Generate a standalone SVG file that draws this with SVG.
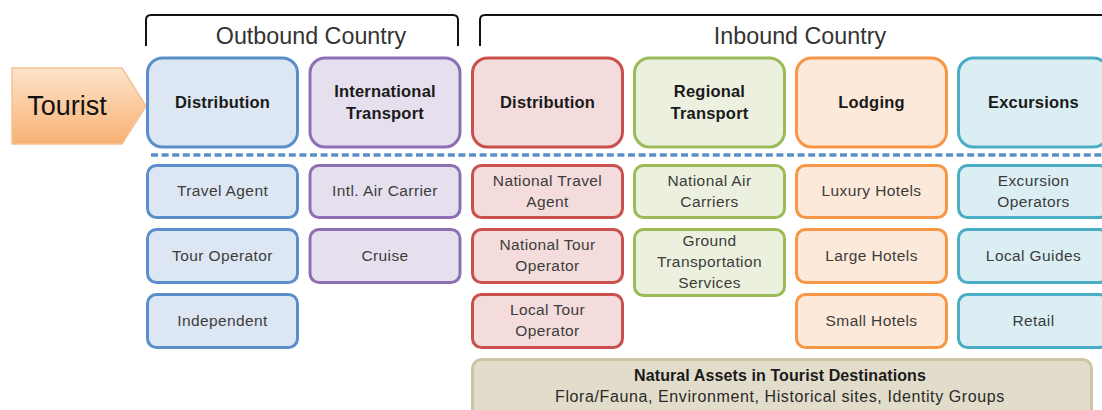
<svg xmlns="http://www.w3.org/2000/svg" width="1102" height="410" viewBox="0 0 1102 410">
<defs>
<linearGradient id="tg" x1="0" y1="0" x2="0" y2="1">
<stop offset="0" stop-color="#fde4cb"/>
<stop offset="1" stop-color="#f8b172"/>
</linearGradient>
<style>
text{font-family:"Liberation Sans",Arial,sans-serif;text-anchor:middle}
.hd{font-size:16.5px;font-weight:bold;fill:#1a1a1a;letter-spacing:0.2px}
.sm{font-size:15.5px;fill:#3c3c3c;letter-spacing:0.4px}
.ct{font-size:23.3px;fill:#333}
.box{stroke-width:3}
.blue{fill:#dde7f3;stroke:#5b8fc9}
.purple{fill:#e6e0ee;stroke:#8d6fb5}
.red{fill:#f3dcdb;stroke:#c9504c}
.green{fill:#ebf1de;stroke:#9bbb59}
.orange{fill:#fde9d9;stroke:#f79646}
.cyan{fill:#dbeef4;stroke:#4bacc6}
.brk{fill:none;stroke:#111;stroke-width:2}
</style>
</defs>
<rect width="1102" height="410" fill="#fff"/>

<g id="brackets">
<path class="brk" d="M146,46 V20 Q146,15 151,15 H453 Q458,15 458,20 V46"/>
<path class="brk" d="M480,46 V20 Q480,15 485,15 H1104"/>
<text class="ct" x="311" y="44">Outbound Country</text>
<text class="ct" x="800" y="44">Inbound Country</text>
</g>

<g id="tourist">
<path d="M12,68 H122 L146,106 L122,144 H12 Z" fill="url(#tg)" stroke="#f3c296" stroke-width="1.5"/>
<text x="67" y="115" style="font-size:27px;fill:#111">Tourist</text>
</g>

<g id="connectors">
<line x1="151" y1="155" x2="1102" y2="155" stroke="#5b8fc9" stroke-width="3.5" stroke-dasharray="7,3.6"/>
</g>

<g id="h-out-dist"><rect class="blue" x="147.5" y="58" width="150" height="89" rx="15" stroke-width="3"/><text class="hd" x="222.5" y="108">Distribution</text></g>
<g id="h-intl-transport"><rect class="purple" x="310" y="58" width="150" height="89" rx="15" stroke-width="3"/><text class="hd" x="385" y="97">International</text><text class="hd" x="385" y="119">Transport</text></g>
<g id="h-in-dist"><rect class="red" x="472.5" y="58" width="150" height="89" rx="15" stroke-width="3"/><text class="hd" x="547.5" y="108">Distribution</text></g>
<g id="h-regional"><rect class="green" x="634.5" y="58" width="150" height="89" rx="15" stroke-width="3"/><text class="hd" x="709.5" y="97">Regional</text><text class="hd" x="709.5" y="119">Transport</text></g>
<g id="h-lodging"><rect class="orange" x="796.5" y="58" width="150" height="89" rx="15" stroke-width="3"/><text class="hd" x="871.5" y="108">Lodging</text></g>
<g id="h-excursions"><rect class="cyan" x="958.5" y="58" width="150" height="89" rx="15" stroke-width="3"/><text class="hd" x="1033.5" y="108">Excursions</text></g>

<g id="travel-agent"><rect class="blue box" x="147.5" y="165.5" width="150" height="52" rx="9"/><text class="sm" x="222.5" y="196">Travel Agent</text></g>
<g id="tour-operator"><rect class="blue box" x="147.5" y="229.5" width="150" height="53" rx="9"/><text class="sm" x="222.5" y="261">Tour Operator</text></g>
<g id="independent"><rect class="blue box" x="147.5" y="294.5" width="150" height="53" rx="9"/><text class="sm" x="222.5" y="326">Independent</text></g>

<g id="intl-air"><rect class="purple box" x="310" y="165.5" width="150" height="52" rx="9"/><text class="sm" x="385" y="196">Intl. Air Carrier</text></g>
<g id="cruise"><rect class="purple box" x="310" y="229.5" width="150" height="53" rx="9"/><text class="sm" x="385" y="261">Cruise</text></g>

<g id="nat-travel-agent"><rect class="red box" x="472.5" y="165.5" width="150" height="52" rx="9"/><text class="sm" x="547.5" y="186">National Travel</text><text class="sm" x="547.5" y="207">Agent</text></g>
<g id="nat-tour-operator"><rect class="red box" x="472.5" y="229.5" width="150" height="53" rx="9"/><text class="sm" x="547.5" y="250">National Tour</text><text class="sm" x="547.5" y="271">Operator</text></g>
<g id="local-tour-operator"><rect class="red box" x="472.5" y="294.5" width="150" height="53" rx="9"/><text class="sm" x="547.5" y="315">Local Tour</text><text class="sm" x="547.5" y="336">Operator</text></g>

<g id="nat-air"><rect class="green box" x="634.5" y="165.5" width="150" height="52" rx="9"/><text class="sm" x="709.5" y="186">National Air</text><text class="sm" x="709.5" y="207">Carriers</text></g>
<g id="ground"><rect class="green box" x="634.5" y="229.5" width="150" height="66" rx="9"/><text class="sm" x="709.5" y="246">Ground</text><text class="sm" x="709.5" y="267">Transportation</text><text class="sm" x="709.5" y="288">Services</text></g>

<g id="luxury"><rect class="orange box" x="796.5" y="165.5" width="150" height="52" rx="9"/><text class="sm" x="871.5" y="196">Luxury Hotels</text></g>
<g id="large"><rect class="orange box" x="796.5" y="229.5" width="150" height="53" rx="9"/><text class="sm" x="871.5" y="261">Large Hotels</text></g>
<g id="small"><rect class="orange box" x="796.5" y="294.5" width="150" height="53" rx="9"/><text class="sm" x="871.5" y="326">Small Hotels</text></g>

<g id="exc-operators"><rect class="cyan box" x="958.5" y="165.5" width="150" height="52" rx="9"/><text class="sm" x="1033.5" y="186">Excursion</text><text class="sm" x="1033.5" y="207">Operators</text></g>
<g id="local-guides"><rect class="cyan box" x="958.5" y="229.5" width="150" height="53" rx="9"/><text class="sm" x="1033.5" y="261">Local Guides</text></g>
<g id="retail"><rect class="cyan box" x="958.5" y="294.5" width="150" height="53" rx="9"/><text class="sm" x="1033.5" y="326">Retail</text></g>

<g id="natural-assets">
<rect x="472.5" y="359.5" width="619" height="60" rx="9" fill="#e2ddca" stroke="#cbc5a3" stroke-width="3"/>
<text x="780" y="381" style="font-size:16px;font-weight:bold;fill:#1a1a1a;letter-spacing:0.1px">Natural Assets in Tourist Destinations</text>
<text x="780" y="402" style="font-size:16px;fill:#2a2a2a;letter-spacing:0.6px">Flora/Fauna, Environment, Historical sites, Identity Groups</text>
</g>
</svg>
